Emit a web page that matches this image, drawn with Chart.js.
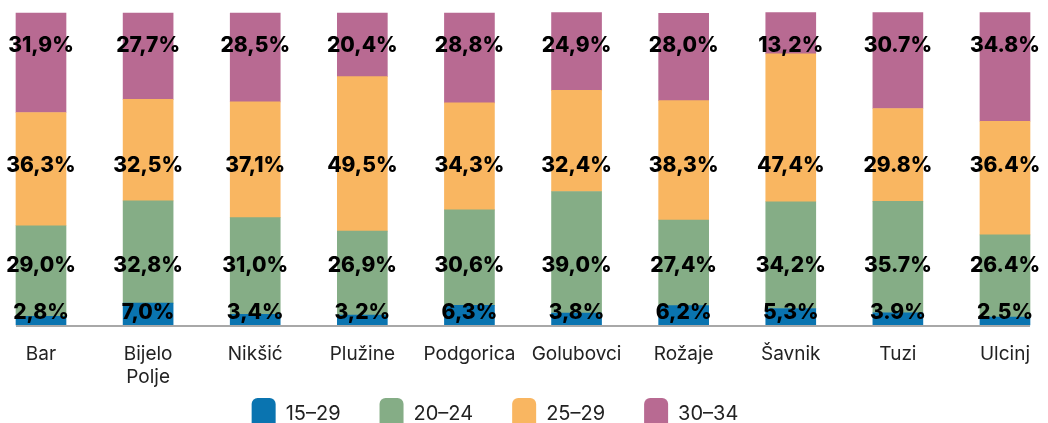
<!DOCTYPE html>
<html>
<head>
<meta charset="utf-8">
<script src="https://cdn.jsdelivr.net/npm/chart.js@4"></script>
<style>
  html, body { margin: 0; padding: 0; background: #fff; overflow: hidden; }
  #wrap { width: 1048px; height: 440px; }
</style>
</head>
<body>
<div id="wrap"><canvas id="grafico"></canvas></div>
<script>
const categories = ['Bar', ['Bijelo', 'Polje'], 'Nikšić', 'Plužine', 'Podgorica', 'Golubovci', 'Rožaje', 'Šavnik', 'Tuzi', 'Ulcinj'];
const seriesNames = ['15–29', '20–24', '25–29', '30–34'];
const age1529 = [2.8, 7.0, 3.4, 3.2, 6.3, 3.8, 6.2, 5.3, 3.9, 2.5];
const age2024 = [29.0, 32.8, 31.0, 26.9, 30.6, 39.0, 27.4, 34.2, 35.7, 26.4];
const age2529 = [36.3, 32.5, 37.1, 49.5, 34.3, 32.4, 38.3, 47.4, 29.8, 36.4];
const age3034 = [31.9, 27.7, 28.5, 20.4, 28.8, 24.9, 28.0, 13.2, 30.7, 34.8];
// labels as printed (some use a dot instead of a comma)
const labels1529 = ['2,8%', '7,0%', '3,4%', '3,2%', '6,3%', '3,8%', '6,2%', '5,3%', '3.9%', '2.5%'];
const labels2024 = ['29,0%', '32,8%', '31,0%', '26,9%', '30,6%', '39,0%', '27,4%', '34,2%', '35.7%', '26.4%'];
const labels2529 = ['36,3%', '32,5%', '37,1%', '49,5%', '34,3%', '32,4%', '38,3%', '47,4%', '29.8%', '36.4%'];
const labels3034 = ['31,9%', '27,7%', '28,5%', '20,4%', '28,8%', '24,9%', '28,0%', '13,2%', '30.7%', '34.8%'];

const colors = ['#0a74b0', '#85ad86', '#f9b661', '#b86a92'];
// vertical level (in % units) of each label row
const labelRows = [4.0, 18.9, 51.1, 89.6];

const values = [age1529, age2024, age2529, age3034];
const texts = [labels1529, labels2024, labels2529, labels3034];

const rowLabels = {
  id: 'rowLabels',
  afterDatasetsDraw(chart) {
    const c = chart.ctx;
    const x = chart.scales.x, y = chart.scales.y;
    // baseline from first bar to last bar
    const first = chart.getDatasetMeta(0).data[0];
    const last = chart.getDatasetMeta(0).data[categories.length - 1];
    const y0 = y.getPixelForValue(0);
    c.save();
    c.strokeStyle = '#a8a8a8';
    c.lineWidth = 2;
    c.beginPath();
    c.moveTo(first.x - first.width / 2, y0 + 1);
    c.lineTo(last.x + last.width / 2, y0 + 1);
    c.stroke();

    c.fillStyle = '#000';
    c.font = '800 21px Inter';
    c.textAlign = 'center';
    c.textBaseline = 'middle';
    texts.forEach((row, s) => {
      row.forEach((t, i) => {
        c.fillText(t, x.getPixelForValue(i), y.getPixelForValue(labelRows[s]));
      });
    });
    c.restore();
  }
};

// wide gap after each legend entry (em + en space)
const gap = '\u2003\u2002';

new Chart(document.getElementById('grafico'), {
  type: 'bar',
  data: {
    labels: categories,
    datasets: values.map((v, i) => ({
      label: seriesNames[i],
      data: v,
      backgroundColor: colors[i],
      borderWidth: 0,
      barThickness: 50,
      clip: false
    }))
  },
  options: {
    responsive: true,
    maintainAspectRatio: false,
    animation: false,
    layout: { padding: { top: 13, left: 41, right: 36, bottom: 0 } },
    plugins: {
      tooltip: { enabled: false },
      legend: {
        position: 'bottom',
        labels: {
          color: '#222',
          font: { family: 'Inter', size: 20 },
          boxWidth: 24,
          boxHeight: 32,
          padding: 9,
          useBorderRadius: true,
          borderRadius: 6,
          generateLabels(chart) {
            const ds = chart.data.datasets;
            const items = ds.map((d, i) => ({
              text: i < ds.length - 1 ? d.label + gap : d.label,
              fillStyle: d.backgroundColor,
              strokeStyle: d.backgroundColor,
              lineWidth: 0,
              borderRadius: 6,
              datasetIndex: i,
              fontColor: '#222'
            }));
            // empty spacer so the legend sits a bit left of centre, as in the original
            items.push({ text: '\u2003', fillStyle: 'rgba(0,0,0,0)', strokeStyle: 'rgba(0,0,0,0)', lineWidth: 0 });
            return items;
          }
        }
      }
    },
    scales: {
      x: {
        stacked: true,
        offset: false,
        grid: { display: false, drawTicks: false },
        border: { display: false },
        afterFit(scale) { scale.height = 64; },
        ticks: {
          color: '#222',
          padding: 18,
          maxRotation: 0,
          autoSkip: false,
          font: { family: 'Inter', size: 19, lineHeight: 1.21 }
        }
      },
      y: {
        stacked: true,
        display: false,
        min: 0,
        max: 100
      }
    }
  },
  plugins: [rowLabels]
});
</script>
</body>
</html>
